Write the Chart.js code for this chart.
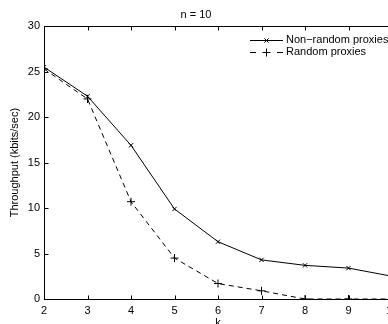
<!DOCTYPE html>
<html>
<head>
<meta charset="utf-8">
<script src="https://cdn.jsdelivr.net/npm/chart.js@4/dist/chart.umd.min.js"></script>
<style>
html,body{margin:0;padding:0;background:#fff;overflow:hidden;width:388px;height:324px;}
#wrap{position:absolute;left:0;top:0;width:420px;height:330px;}
</style>
</head>
<body>
<div id="wrap"><canvas id="c" width="420" height="330"></canvas></div>
<script>
const kValues = [2, 3, 4, 5, 6, 7, 8, 9, 10];
const nonRandomProxies = [25.5, 22.3, 16.9, 9.9, 6.3, 4.3, 3.7, 3.4, 2.5];
const randomProxies = [25.3, 22.0, 10.7, 4.5, 1.7, 0.9, 0, 0, 0];
const xTicks = [2, 3, 4, 5, 6, 7, 8, 9, 10];
const yTicks = [0, 5, 10, 15, 20, 25, 30];
const seriesNames = ['Non\u2212random proxies', 'Random proxies'];
const titleText = 'n = 10';
const xTitle = 'k';
const yTitle = 'Throughput (kbits/sec)';

const FONT = '"Liberation Sans", Arial, Helvetica, sans-serif';
Chart.defaults.font.family = FONT;
Chart.defaults.font.size = 11;
Chart.defaults.color = '#000';

const pts = arr => kValues.map((k, i) => ({x: k, y: arr[i]}));

const boxPlugin = {
  id: 'box',
  afterDraw(chart) {
    const ctx = chart.ctx;
    const a = chart.chartArea;
    const xs = chart.scales.x, ys = chart.scales.y;
    const L = Math.round(a.left) + 0.5, R = Math.round(a.right) + 0.5;
    const T = Math.round(a.top) + 0.5, B = Math.round(a.bottom) + 0.5;
    ctx.save();
    ctx.strokeStyle = '#000';
    ctx.lineWidth = 1;
    ctx.setLineDash([]);
    ctx.strokeRect(L, T, R - L, B - T);
    ctx.beginPath();
    const tl = 4;
    xTicks.forEach(v => {
      const px = Math.round(xs.getPixelForValue(v)) + 0.5;
      ctx.moveTo(px, B); ctx.lineTo(px, B - tl);
      ctx.moveTo(px, T); ctx.lineTo(px, T + tl);
    });
    yTicks.forEach(v => {
      const py = Math.round(ys.getPixelForValue(v)) + 0.5;
      ctx.moveTo(L, py); ctx.lineTo(L + tl, py);
      ctx.moveTo(R, py); ctx.lineTo(R - tl, py);
    });
    ctx.stroke();

    // legend
    const lx0 = 250, lx1 = 283, tx = 286;
    const rows = [40, 52];
    ctx.font = '11px ' + FONT;
    ctx.fillStyle = '#000';
    ctx.textBaseline = 'middle';
    ctx.textAlign = 'left';
    ctx.beginPath();
    ctx.moveTo(lx0, rows[0] + 0.5); ctx.lineTo(lx1, rows[0] + 0.5);
    ctx.stroke();
    Chart.helpers.drawPoint(ctx, {pointStyle: 'crossRot', radius: 3, borderWidth: 1}, (lx0 + lx1) / 2, rows[0] + 0.5);
    ctx.fillText(seriesNames[0], tx, rows[0]);
    ctx.beginPath();
    ctx.moveTo(lx0, rows[1] + 0.5); ctx.lineTo(lx0 + 6, rows[1] + 0.5);
    ctx.moveTo(lx1 - 6, rows[1] + 0.5); ctx.lineTo(lx1, rows[1] + 0.5);
    ctx.stroke();
    Chart.helpers.drawPoint(ctx, {pointStyle: 'cross', radius: 4, borderWidth: 1}, (lx0 + lx1) / 2, rows[1] + 0.5);
    ctx.fillText(seriesNames[1], tx, rows[1]);
    ctx.restore();
  }
};

new Chart(document.getElementById('c'), {
  type: 'line',
  data: {
    datasets: [
      {
        label: seriesNames[0],
        data: pts(nonRandomProxies),
        borderColor: '#000',
        backgroundColor: '#000',
        borderWidth: 1,
        pointStyle: 'crossRot',
        pointRadius: 3,
        pointBorderWidth: 1,
        pointBorderColor: '#000',
        tension: 0,
        fill: false
      },
      {
        label: seriesNames[1],
        data: pts(randomProxies),
        borderColor: '#000',
        backgroundColor: '#000',
        borderWidth: 1,
        borderDash: [5, 4],
        pointStyle: 'cross',
        pointRadius: 4,
        pointBorderWidth: 1,
        pointBorderColor: '#000',
        tension: 0,
        fill: false
      }
    ]
  },
  options: {
    responsive: false,
    animation: false,
    devicePixelRatio: 1,
    layout: {padding: {left: 0, right: 28, top: 0, bottom: 0}},
    plugins: {
      legend: {display: false},
      tooltip: {enabled: false},
      title: {
        display: true,
        text: titleText,
        color: '#000',
        font: {size: 11, weight: 'normal'},
        padding: {top: 8, bottom: 5}
      }
    },
    scales: {
      x: {
        type: 'linear',
        min: 2, max: 10,
        afterBuildTicks: s => { s.ticks = xTicks.map(v => ({value: v})); },
        grid: {display: false, drawTicks: false},
        border: {display: false},
        ticks: {padding: 5, color: '#000', font: {size: 11}, maxRotation: 0},
        title: {display: true, text: xTitle, color: '#000', font: {size: 11}, padding: {top: 0, bottom: 0}},
        afterFit: s => { s.height = 31; }
      },
      y: {
        type: 'linear',
        min: 0, max: 30,
        afterBuildTicks: s => { s.ticks = yTicks.map(v => ({value: v})); },
        grid: {display: false, drawTicks: false},
        border: {display: false},
        ticks: {padding: 4, color: '#000', font: {size: 11}},
        title: {display: true, text: yTitle, color: '#000', font: {size: 11}, padding: {top: 8, bottom: 0}},
        afterFit: s => { s.width = 44; }
      }
    }
  },
  plugins: [boxPlugin]
});
</script>
</body>
</html>
